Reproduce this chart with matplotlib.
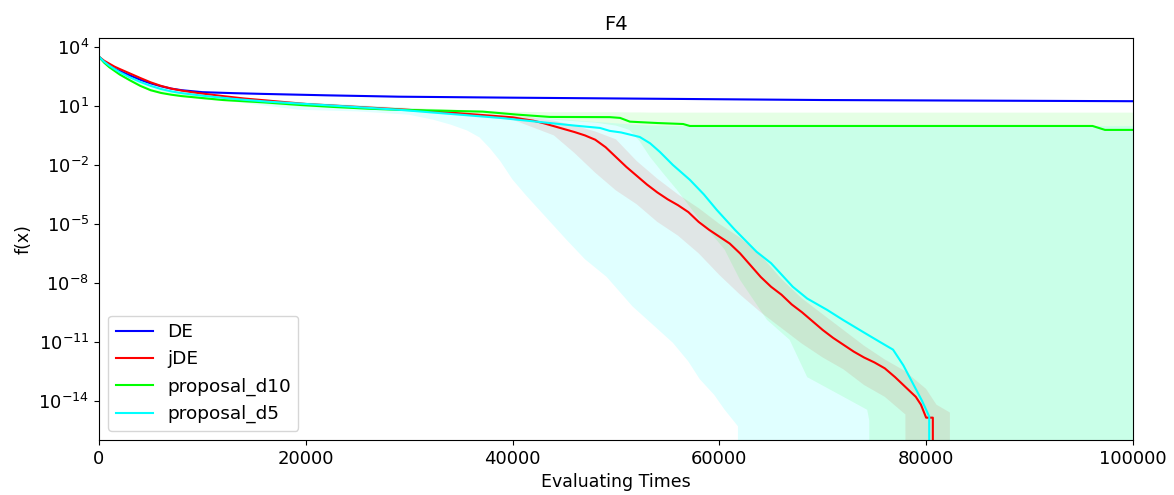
import numpy as np
import matplotlib
matplotlib.use("Agg")
import matplotlib.pyplot as plt
from matplotlib.ticker import LogFormatterSciNotation, NullLocator

# values stored as log10(f(x)); -300 marks the drop to zero
de_x = [0, 500, 1000, 1500, 2000, 3000, 4000, 5000, 6000, 7000, 8000, 10000,
        13000, 16000, 22000, 29000, 40000, 50000, 60000, 70000, 80000, 90000,
        100000]
de_log = [3.5, 3.25, 3.05, 2.9, 2.78, 2.55, 2.33, 2.15, 2.0, 1.88, 1.8, 1.7,
          1.65, 1.61, 1.54, 1.47, 1.42, 1.38, 1.34, 1.30, 1.28, 1.26, 1.24]
de_lo = [3.5, 3.23, 3.03, 2.88, 2.76, 2.53, 2.31, 2.13, 1.98, 1.86, 1.78, 1.68,
         1.63, 1.59, 1.52, 1.45, 1.40, 1.36, 1.32, 1.28, 1.26, 1.24, 1.22]
de_hi = [3.5, 3.27, 3.07, 2.92, 2.8, 2.57, 2.35, 2.17, 2.02, 1.9, 1.82, 1.72,
         1.67, 1.63, 1.56, 1.49, 1.44, 1.40, 1.36, 1.33, 1.30, 1.28, 1.26]

jde_x = [0, 500, 1000, 1500, 2000, 3000, 4000, 5000, 6000, 7000, 8000, 9000,
         10000, 12000, 14000, 17000, 20000, 25000, 30000, 35000, 38000, 40000,
         41000, 42000, 43000, 44000, 45000, 46000, 47000, 48000, 49000,
         50000, 51000, 52000, 53000, 54000, 55000, 56000, 57000, 58000, 59000,
         60000, 61000, 62000, 63000, 64000, 65000, 66000, 67000, 68000, 69000,
         70000, 71000, 72000, 73000, 74000, 75000, 76000, 77000, 78000, 79000,
         79500, 80000, 80650, 80650]
jde_log = [3.5, 3.3, 3.15, 3.0, 2.88, 2.65, 2.42, 2.2, 2.02, 1.88, 1.78, 1.7,
           1.63, 1.5, 1.38, 1.24, 1.1, 0.95, 0.8, 0.62, 0.5, 0.42,
           0.33, 0.25, 0.12, -0.03, -0.18, -0.33, -0.5, -0.72, -1.1,
           -1.6, -2.1, -2.55, -3.0, -3.4, -3.75, -4.05, -4.4, -4.9, -5.3,
           -5.65, -6.0, -6.5, -7.1, -7.7, -8.2, -8.6, -9.1, -9.5, -9.95,
           -10.4, -10.8, -11.15, -11.5, -11.8, -12.05, -12.35, -12.8, -13.3, -13.8,
           -14.2, -14.86, -14.86, -300]
jde_bx = [40000, 42000, 44000, 46000, 48000, 50000, 52000, 54000, 56000, 58000,
          60000, 62000, 64000, 66000, 68000, 70000, 72000, 74000, 76000, 78000,
          78200, 80000, 81000, 82300, 82400]
jde_lo = [0.3, -0.1, -0.5, -1.4, -2.4, -3.3, -4.0, -4.9, -5.6, -6.5,
          -7.6, -8.6, -9.5, -10.3, -11.1, -11.8, -12.4, -13.2, -13.8, -14.7,
          -300, -300, -300, -300, -300]
jde_hi = [0.5, 0.4, 0.25, 0.0, -0.3, -0.7, -1.8, -2.7, -3.5, -4.2,
          -5.0, -5.7, -6.6, -7.8, -8.8, -9.6, -10.4, -11.2, -11.9, -12.5,
          -12.6, -13.4, -14.2, -14.6, -300]

d10_x = [0, 500, 1000, 2000, 3000, 4000, 5000, 6000, 7000, 8000, 10000,
         12000, 16000, 19400, 22600, 26000, 29100, 33000, 37100, 40400, 43600,
         49400, 50400, 51350, 54000, 56500, 57150, 96100, 97300, 100000]
d10_log = [3.5, 3.2, 2.97, 2.6, 2.3, 2.02, 1.8, 1.66, 1.57, 1.5, 1.4,
           1.3, 1.18, 1.05, 0.95, 0.86, 0.8, 0.76, 0.71, 0.56, 0.44,
           0.43, 0.39, 0.2, 0.13, 0.08, -0.02, -0.02, -0.22, -0.22]
d10_bx = [0, 2000, 5000, 10000, 20000, 30000, 40000, 44000, 48000, 50000,
          51300, 52300, 53300, 54600, 55900, 58100, 60500, 62000, 64600, 66800,
          68500, 72000, 74300, 74500, 74600, 100000]
d10_lo = [3.5, 2.55, 1.72, 1.32, 0.95, 0.72, 0.45, 0.3, 0.15, 0.0,
          -0.22, -0.8, -1.6, -2.45, -3.27, -4.8, -6.3, -7.85, -9.88, -10.9,
          -12.8, -13.8, -14.46, -15.0, -300, -300]
d10_hi = [3.5, 2.65, 1.88, 1.48, 1.15, 0.9, 0.7, 0.68, 0.68, 0.68,
          0.67, 0.67, 0.66, 0.66, 0.66, 0.66, 0.66, 0.66, 0.66, 0.66,
          0.66, 0.66, 0.66, 0.66, 0.66, 0.66]

d5_x = [0, 500, 1000, 1500, 2000, 3000, 4000, 5000, 6000, 7000, 8000, 10000,
        13000, 16250, 20000, 24000, 29100, 35000, 38800, 43600, 46000, 48450,
        49400, 50500, 52300, 53300, 54250, 55500, 57150, 58500, 59750, 61500,
        63600, 65000, 67100, 68500, 70400, 72000, 73900, 75500, 76800, 77800,
        78700, 79600, 80300, 80300]
d5_log = [3.5, 3.25, 3.05, 2.88, 2.72, 2.45, 2.22, 2.02, 1.86, 1.74, 1.65, 1.52,
          1.36, 1.22, 1.1, 0.97, 0.8, 0.55, 0.39, 0.13, 0.0, -0.12,
          -0.27, -0.35, -0.58, -0.9, -1.34, -2.0, -2.76, -3.5, -4.29, -5.3,
          -6.42, -7.0, -8.2, -8.8, -9.37, -9.9, -10.5, -11.0, -11.4, -12.2,
          -13.1, -14.0, -14.8, -300]
d5_bx = [0, 2000, 5000, 10000, 19400, 25000, 30000, 32300, 34000, 35600,
         36800, 37800, 38800, 40000, 41300, 42600, 45200, 47000, 49100, 51600,
         53500, 55500, 57000, 58100, 59500, 60500, 61800, 62000, 80000, 100000]
d5_lo = [3.5, 2.6, 1.88, 1.4, 0.8, 0.72, 0.55, 0.3, 0.05, -0.25,
         -0.6, -1.15, -1.8, -2.75, -3.55, -4.3, -5.8, -6.8, -7.7, -9.2,
         -10.1, -11.05, -12.0, -12.9, -13.7, -14.45, -15.3, -300, -300, -300]
d5_hi = [3.5, 2.8, 2.12, 1.6, 1.2, 1.05, 0.9, 0.8, 0.7, 0.6,
         0.56, 0.52, 0.48, 0.45, 0.42, 0.4, 0.3, 0.22, 0.15, 0.05,
         0.0, -0.02, -0.03, -0.03, -0.03, -0.03, -0.03, -0.03, -0.03, -0.03]

y_ticks = [4, 1, -2, -5, -8, -11, -14]
x_ticks = [0, 20000, 40000, 60000, 80000, 100000]


def p(v):
    return 10.0 ** np.array(v, dtype=float)


fig = plt.figure(figsize=(11.74, 4.95), dpi=100)
ax = fig.add_axes([0.0843, 0.111, 0.8807, 0.812])

ax.fill_between(de_x, p(de_lo), p(de_hi), color="#0000ff", alpha=0.11, lw=0)
ax.fill_between(jde_bx, p(jde_lo), p(jde_hi), color="#ff0000", alpha=0.11, lw=0)
ax.fill_between(d10_bx, p(d10_lo), p(d10_hi), color="#00ff00", alpha=0.1, lw=0)
ax.fill_between(d5_bx, p(d5_lo), p(d5_hi), color="#00ffff", alpha=0.12, lw=0)

ax.plot(de_x, p(de_log), color="#0000ff", lw=1.5, label="DE")
ax.plot(jde_x, p(jde_log), color="#ff0000", lw=1.5, label="jDE")
ax.plot(d10_x, p(d10_log), color="#00ff00", lw=1.5, label="proposal_d10")
ax.plot(d5_x, p(d5_log), color="#00ffff", lw=1.5, label="proposal_d5")

ax.set_yscale("log")
ax.set_ylim(1e-16, 10 ** 4.45)
ax.set_xlim(0, 100000)
ax.set_yticks([10.0 ** t for t in y_ticks])
ax.yaxis.set_major_formatter(LogFormatterSciNotation())
ax.yaxis.set_minor_locator(NullLocator())
ax.set_xticks(x_ticks)
ax.tick_params(labelsize=13)

ax.set_title("F4", fontsize=14)
ax.set_xlabel("Evaluating Times", fontsize=12.5)
ax.set_ylabel("f(x)", fontsize=12.5)
ax.legend(loc="lower left", fontsize=13.3)

fig.savefig("out.png", dpi=100)
